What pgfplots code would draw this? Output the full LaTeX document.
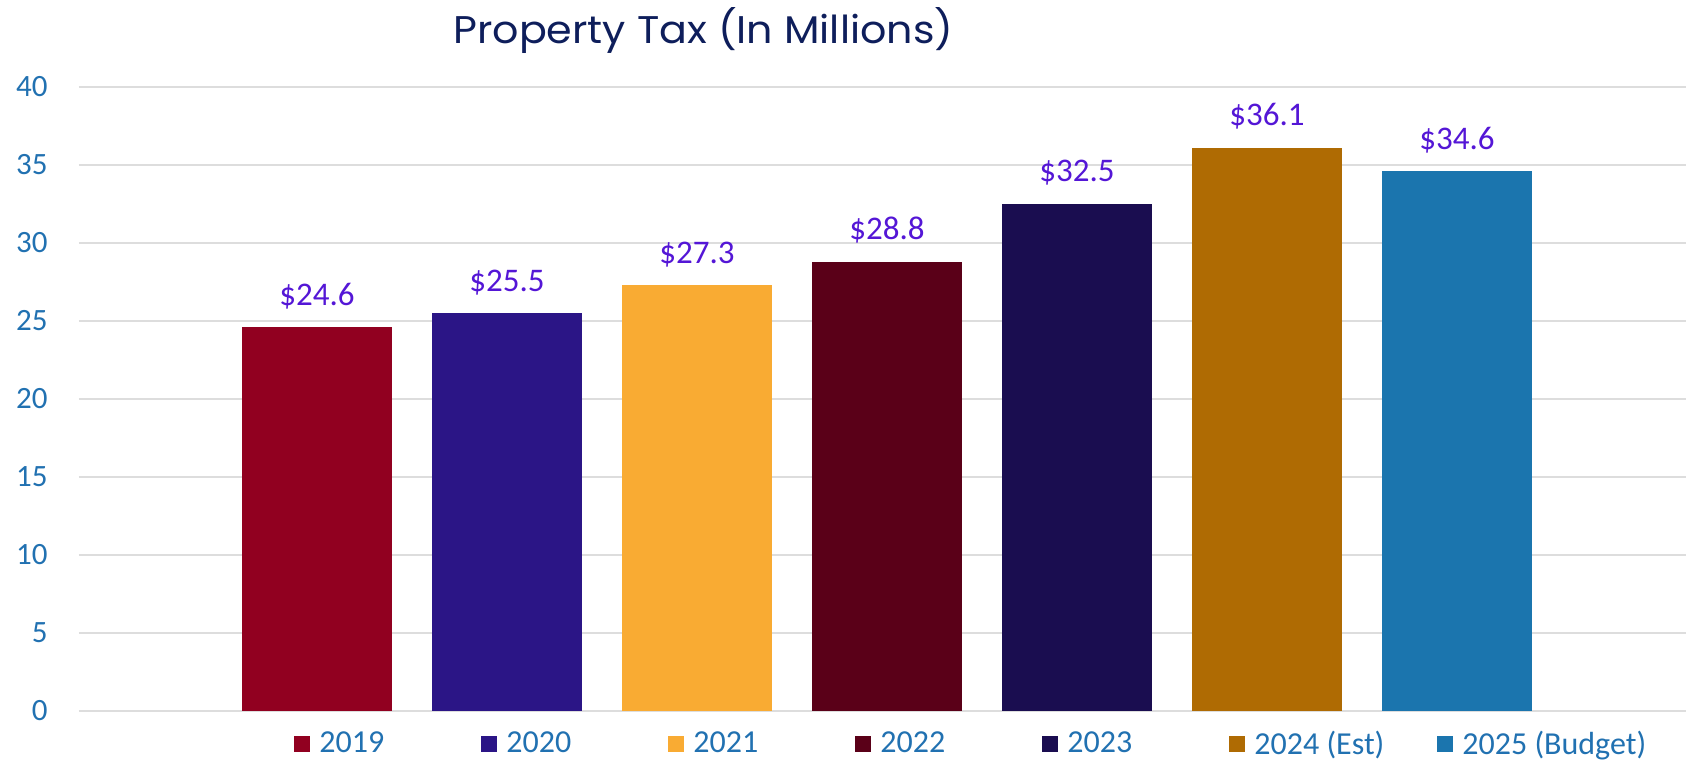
\documentclass[border=0pt]{standalone}
\usepackage{fontspec}
\setmainfont{Carlito}
\newfontfamily\titlefont{Poppins}
\usepackage{graphicx}
\usepackage{pgfplots}
\pgfplotsset{compat=1.18}
\definecolor{cA}{HTML}{910020}
\definecolor{cB}{HTML}{2B1586}
\definecolor{cC}{HTML}{F9AB33}
\definecolor{cD}{HTML}{5A0018}
\definecolor{cE}{HTML}{1A0D50}
\definecolor{cF}{HTML}{AF6B03}
\definecolor{cG}{HTML}{1B75AE}
\definecolor{tick}{HTML}{2171B1}
\definecolor{lbl}{HTML}{5416D6}
\definecolor{ttl}{HTML}{0E1E5B}
\definecolor{grd}{HTML}{DDDDDD}
\newcommand{\lent}[2]{\hspace{4.5pt}\makebox[#1][l]{#2}}
\begin{document}
\begin{tikzpicture}
\useasboundingbox (-39.5pt,-25pt) rectangle (803.5pt,355.5pt);
\begin{axis}[
  scale only axis,
  width=803.5pt, height=312pt,
  ybar,
  bar width=75pt,
  xmin=-1.2526, xmax=7.205,
  ymin=0, ymax=40,
  ytick={0,5,...,40},
  xtick=\empty,
  ymajorgrids,
  grid style={draw=grd, line width=1pt},
  axis line style={draw=none},
  major tick length=0pt,
  /pgf/number format/assume math mode=true,
  yticklabel style={font=\fontsize{15.5}{18}\selectfont, color=tick, inner sep=0pt, xshift=-15.5pt},
  nodes near coords={\$\pgfmathprintnumber[fixed,fixed zerofill,precision=1]{\pgfplotspointmeta}},
  nodes near coords style={font=\fontsize{16.5}{19}\selectfont, color=lbl, anchor=south, inner sep=0pt, yshift=9pt},
  legend columns=7,
  legend style={at={(axis description cs:0,0)}, anchor=west, xshift=107.5pt, yshift=-16.5pt,
    draw=none, fill=none, inner sep=0pt,
    font=\fontsize{16}{19}\selectfont, text=tick,
    nodes={inner sep=0pt}},
  legend image code/.code={\fill[#1] (0pt,-4pt) rectangle (8pt,4pt);},
  clip=false,
]
\addplot[fill=cA, draw=none, bar shift=0pt] coordinates {(0,24.6)};
\addplot[fill=cB, draw=none, bar shift=0pt] coordinates {(1,25.5)};
\addplot[fill=cC, draw=none, bar shift=0pt] coordinates {(2,27.3)};
\addplot[fill=cD, draw=none, bar shift=0pt] coordinates {(3,28.8)};
\addplot[fill=cE, draw=none, bar shift=0pt] coordinates {(4,32.5)};
\addplot[fill=cF, draw=none, bar shift=0pt] coordinates {(5,36.1)};
\addplot[fill=cG, draw=none, bar shift=0pt] coordinates {(6,34.6)};
\legend{\lent{81pt}{2019},\lent{81pt}{2020},\lent{81pt}{2021},\lent{81pt}{2022},\lent{81pt}{2023},\lent{91.5pt}{2024 (Est)},\lent{85pt}{2025 (Budget)}}
\end{axis}
\node[anchor=base west, inner sep=0pt, text=ttl] at (187pt,333.5pt) {\resizebox{250pt}{18pt}{\titlefont Property Tax (In Millions)}};
\end{tikzpicture}
\end{document}
